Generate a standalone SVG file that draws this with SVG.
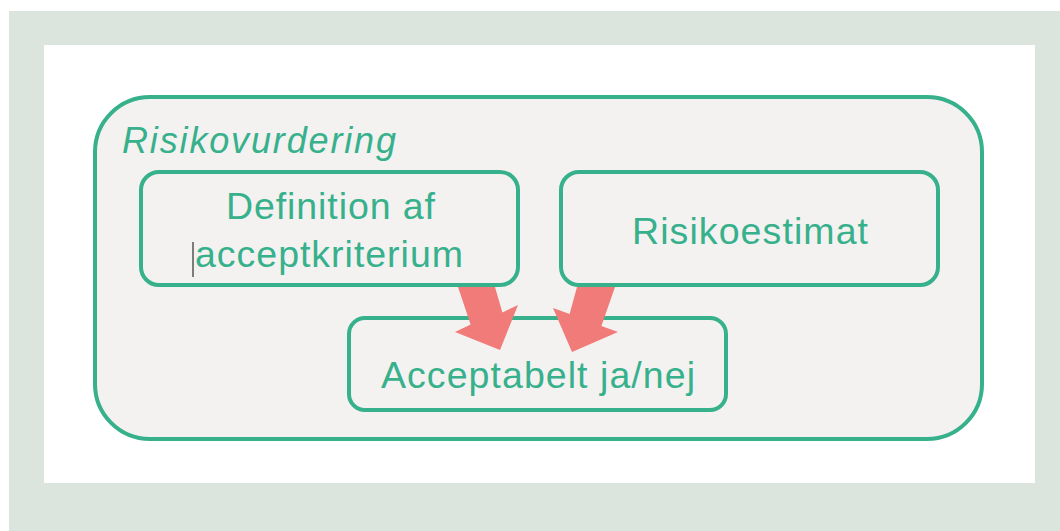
<svg xmlns="http://www.w3.org/2000/svg" width="1060" height="531" viewBox="0 0 1060 531">
<style>
.box{fill:#f3f2f0;stroke:#37b08c;stroke-width:4}
.t{font-family:"Liberation Sans",Arial,sans-serif;font-size:37.5px;fill:#37b08c;text-anchor:middle}
.arrow{fill:#f07b79}
</style>
<rect x="0" y="0" width="1060" height="531" fill="#ffffff"/>
<rect x="9" y="11" width="1051" height="520" fill="#dbe5de"/>
<rect x="44" y="45" width="991" height="438" fill="#ffffff"/>
<g id="risikovurdering">
<rect class="box" x="95" y="97" width="887" height="342" rx="55" ry="55"/>
<text x="122" y="153" font-family="Liberation Sans,Arial,sans-serif" font-size="36" font-style="italic" fill="#37b08c" textLength="274">Risikovurdering</text>
</g>
<g id="acceptabelt">
<rect class="box" x="349" y="318" width="377" height="92" rx="16" ry="16"/>
<text class="t" x="538" y="388" textLength="314">Acceptabelt ja/nej</text>
</g>
<g id="connectors">
<polygon class="arrow" points="458,287 495,287 502.4,312.4 518,305 500,350 455,332 470.6,324.6"/>
<polygon class="arrow" points="577,287 615,287 601.4,326 618,332 572,352 553,308 569.6,314"/>
</g>
<g id="definition">
<rect class="box" x="141" y="172" width="377" height="113" rx="18" ry="18"/>
<text class="t" x="330.5" y="219" textLength="209">Definition af</text>
<text class="t" x="329" y="267" textLength="268">acceptkriterium</text>
<line x1="193" y1="242" x2="193" y2="277" stroke="#555" stroke-width="1.5"/>
</g>
<g id="risikoestimat">
<rect class="box" x="561" y="172" width="377" height="113" rx="18" ry="18"/>
<text class="t" x="750" y="244" textLength="236">Risikoestimat</text>
</g>
</svg>
